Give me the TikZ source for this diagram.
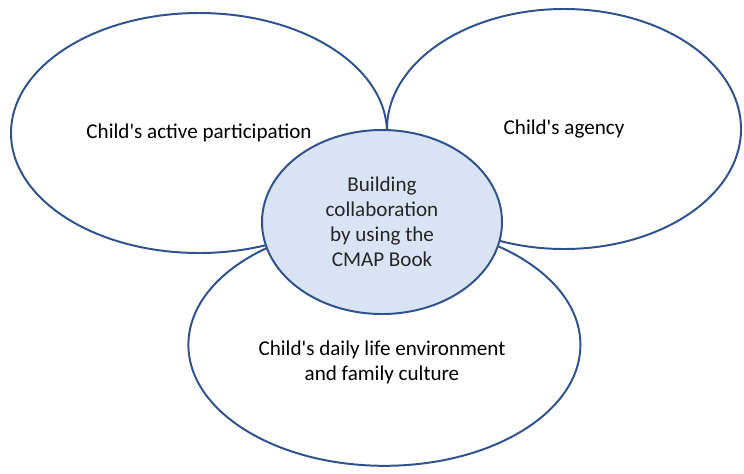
\documentclass[tikz,border=0pt]{standalone}
\usepackage{fontspec}
\setmainfont{Carlito}
\usetikzlibrary{shapes.geometric}
\definecolor{outline}{HTML}{2F528F}
\definecolor{corefill}{HTML}{DAE3F3}

\begin{document}
\begin{tikzpicture}[
    bubble/.style={draw=outline, fill=white, ellipse, line width=1.4pt,
        inner sep=0pt, align=center, font=\fontsize{15}{17.8}\selectfont}
]
    \useasboundingbox (0,0) rectangle (18.6,-11.825);
    % Outer ellipses
    \node [bubble,
        minimum width=9.4cm,
        minimum height=6cm
    ] (Participation) at (4.975,-3.325) {Child\textquotesingle s active participation};
    \node [bubble,
        minimum width=8.85cm,
        minimum height=6cm
    ] (Agency) at (14.1,-3.225) {Child\textquotesingle s agency};
    \node [bubble,
        minimum width=9.8cm,
        minimum height=6.05cm
    ] (Daily) at (9.61,-8.62) {};
    \node [align=center, font=\fontsize{15}{17.8}\selectfont]
        (DailyText) at (9.55,-9.05) {Child\textquotesingle s daily life environment\\and family culture};
    % Central ellipse
    \node [bubble,
        fill=corefill,
        text=black!85,
        minimum width=6cm,
        minimum height=4.6cm
    ] (Core) at (9.55,-5.55) {Building\\collaboration\\by using the\\CMAP Book};
\end{tikzpicture}
\end{document}
